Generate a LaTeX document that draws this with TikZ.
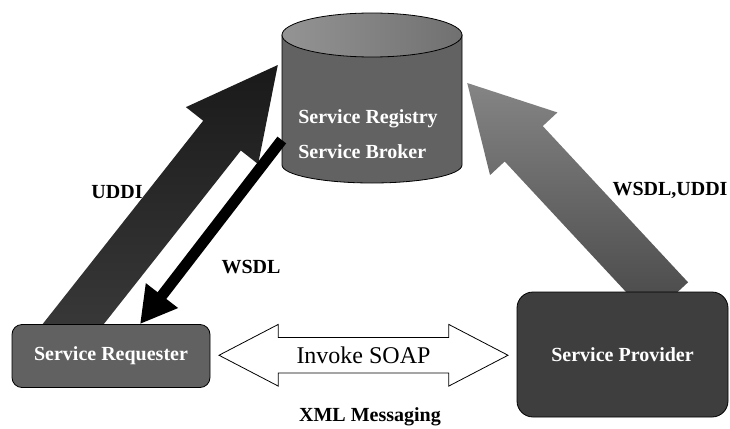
\documentclass[tikz,border=0pt]{standalone}
\usepackage{fontspec}
\setmainfont{Liberation Serif}
\usetikzlibrary{calc,arrows.meta,shapes.arrows,backgrounds}

\definecolor{drumgray}{HTML}{626262}
\definecolor{reqgray}{HTML}{616161}
\definecolor{provgray}{HTML}{3E3E3E}

\tikzset{
  edge/.style={line width=0.8pt},
  svctext/.style={text=white, font=\fontsize{20}{35}\selectfont\bfseries},
  svcbox/.style={svctext, draw, edge},
  lbl/.style={font=\fontsize{20}{24}\selectfont\bfseries},
}

% block arrow: style, from, to, shaft half width, head half width, head length
\newcommand{\blockarrow}[6]{%
  \coordinate (ba-h) at ($(#3)!#6!(#2)$);
  \shade[#1] ($(#2)!#4!90:(#3)$) -- ($(ba-h)!#4!90:(#3)$) -- ($(ba-h)!#5!90:(#3)$) -- (#3)
    -- ($(ba-h)!#5!-90:(#3)$) -- ($(ba-h)!#4!-90:(#3)$) -- ($(#2)!#4!-90:(#3)$) -- cycle;}

\begin{document}
\begin{tikzpicture}[x=1pt, y=-1pt]
\useasboundingbox (0,0) rectangle (730,428);

% registry drum
\draw[edge, fill=drumgray] (282,35) -- (282,165)
  arc[start angle=180, end angle=360, x radius=90pt, y radius=18pt] -- (462,35) -- cycle;
\draw[edge, left color=black!42, right color=black!56] (372,35) ellipse [x radius=90pt, y radius=22pt];

\node[svctext, align=left, minimum width=172pt] (reg) at (368,134) {Service Registry\\Service Broker};
\node[svcbox, fill=reqgray, rounded corners=10pt, minimum width=198pt, minimum height=63pt] (req) at (111,356) {Service Requester};
\node[svcbox, fill=provgray, rounded corners=16pt, minimum width=211pt, minimum height=125pt] (prov) at (622.5,354.5) {Service Provider};

\begin{scope}[on background layer]
  \coordinate (uddi-s) at ([xshift=-63pt]req.center);
  \coordinate (uddi-t) at ([xshift=-4pt,yshift=69pt]reg.west);
  \blockarrow{top color=black!90, bottom color=black!76}{uddi-s}{uddi-t}{24pt}{46pt}{90pt}
  \coordinate (wu-s) at ([xshift=46.5pt,yshift=54.5pt]prov.center);
  \coordinate (wu-t) at ([xshift=13pt,yshift=51pt]reg.east);
  \blockarrow{top color=black!48, bottom color=black!72}{wu-s}{wu-t}{26pt}{46pt}{83pt}
\end{scope}

\draw[line width=11pt, -{Triangle[length=36pt, width=38pt]}] ([yshift=-6pt]reg.west) -- ([xshift=29pt]req.north);

\node[double arrow, draw, edge, fill=white, minimum height=289pt, minimum width=60pt,
  double arrow head extend=13pt, double arrow tip angle=55, inner ysep=9pt,
  font=\fontsize{24}{24}\selectfont] (soap) at ($(req.east)!0.5!(prov.west)$) {Invoke SOAP};

\node[lbl] (uddi) at (117,192) {UDDI};
\node[lbl] (wsdl) at (251,267) {WSDL};
\node[lbl] (wsdluddi) at (670,190) {WSDL,UDDI};
\node[lbl] (xml) at (370,417) {XML Messaging};
\end{tikzpicture}
\end{document}
